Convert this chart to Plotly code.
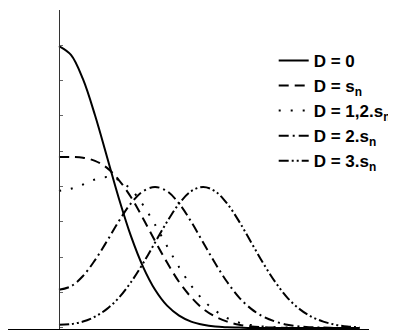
import plotly.graph_objects as go

x = [0, 0.25, 0.5, 0.75, 1.0, 1.25, 1.5, 1.75, 2.0, 2.25, 2.5, 2.75, 3.0,
     3.25, 3.5, 3.75, 4.0, 4.25, 4.5, 4.75, 5.0, 5.25, 5.5, 5.75, 6.0, 6.25]

d0 = [0.798, 0.773, 0.704, 0.602, 0.484, 0.365, 0.259, 0.173, 0.108, 0.063,
      0.035, 0.018, 0.009, 0.004, 0.002, 0.001, 0, 0, 0, 0, 0, 0, 0, 0, 0, 0]
d1 = [0.484, 0.484, 0.482, 0.473, 0.453, 0.418, 0.370, 0.310, 0.246, 0.185,
      0.130, 0.087, 0.054, 0.032, 0.018, 0.009, 0.004, 0.002, 0.001, 0, 0, 0,
      0, 0, 0, 0]
d12 = [0.388, 0.394, 0.406, 0.420, 0.427, 0.418, 0.392, 0.348, 0.292, 0.231,
       0.172, 0.120, 0.079, 0.049, 0.028, 0.015, 0.008, 0.004, 0.002, 0.001,
       0, 0, 0, 0, 0, 0]
d2 = [0.108, 0.118, 0.147, 0.192, 0.246, 0.303, 0.353, 0.387, 0.399, 0.387,
      0.352, 0.301, 0.242, 0.183, 0.130, 0.086, 0.054, 0.032, 0.018, 0.009,
      0.004, 0.002, 0.001, 0, 0, 0]
d3 = [0.009, 0.011, 0.018, 0.032, 0.054, 0.086, 0.130, 0.183, 0.242, 0.301,
      0.352, 0.387, 0.399, 0.387, 0.352, 0.301, 0.242, 0.183, 0.130, 0.086,
      0.054, 0.032, 0.018, 0.009, 0.004, 0.002]

names = ["D = 0", "D = s<sub>n</sub>", "D = 1,2.s<sub>n</sub>",
         "D = 2.s<sub>n</sub>", "D = 3.s<sub>n</sub>"]
series = [d0, d1, d12, d2, d3]
dashes = ["solid", "10px,6px", "2px,10px", "10px,4px,2px,4px",
          "10px,3px,2px,3px,2px,3px"]

fig = go.Figure()
for nm, ys, ds in zip(names, series, dashes):
    fig.add_trace(go.Scatter(x=x, y=ys, mode="lines", name=nm,
                             line=dict(color="black", width=2, dash=ds,
                                       shape="spline")))

fig.update_layout(
    width=388, height=323,
    margin=dict(l=0, r=20, t=2, b=2),
    paper_bgcolor="white", plot_bgcolor="white",
    font=dict(family="Liberation Sans", color="black"),
    showlegend=True,
    legend=dict(x=0.736, y=0.897, xanchor="left", yanchor="top",
                bgcolor="rgba(0,0,0,0)",
                font=dict(size=17, family="Liberation Sans", color="black",
                          weight="bold")),
    xaxis=dict(range=[-1.06, 6.45], showline=True, linecolor="black",
               linewidth=1, showgrid=False, zeroline=False,
               showticklabels=False, ticks=""),
    yaxis=dict(range=[-0.003, 0.9], anchor="free", position=52 / 368,
               showline=True, linecolor="#333", linewidth=1,
               ticks="inside", ticklen=3, tickcolor="#666", dtick=0.1,
               showticklabels=False, showgrid=False, zeroline=False),
)

fig.write_html("out.html")
